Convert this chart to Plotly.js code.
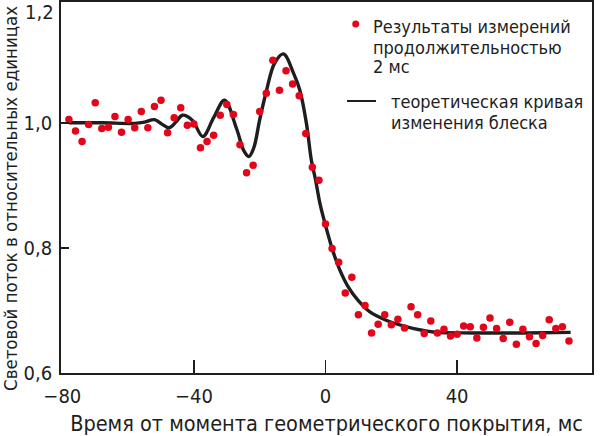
<!DOCTYPE html>
<html>
<head>
<meta charset="utf-8">
<script src="https://cdn.plot.ly/plotly-3.0.1.min.js"></script>
<style>html,body{margin:0;padding:0;background:#fff;}#chart{width:600px;height:436px;}</style>
</head>
<body>
<div id="chart"></div>
<script>
// Measurements (2 ms samples)
const measX = [-78,-76,-74,-72,-70,-68,-66,-64,-62,-60,-58,-56,-54,-52,-50,-48,-46,-44,-42,-40,
  -38,-36,-34,-32,-30,-28,-26,-24,-22,-20,-18,-16,-14,-12,-10,-8,-6,-4,-2,
  0,2,4,6,8,10,12,14,16,18,20,22,24,26,28,30,32,34,36,38,40,
  42,44,46,48,50,52,54,56,58,60,62,64,66,68,70,72,74];
const measY = [1.005,0.987,0.970,0.997,1.032,0.991,0.993,1.010,0.985,1.005,0.992,1.018,0.992,1.026,1.036,0.984,1.008,1.024,0.996,0.998,
  0.960,0.970,0.980,1.012,1.029,1.013,0.965,0.920,0.932,1.018,1.047,1.100,1.052,1.083,1.062,1.043,0.983,0.929,0.908,
  0.838,0.799,0.777,0.728,0.753,0.693,0.708,0.664,0.678,0.693,0.677,0.686,0.672,0.706,0.693,0.663,0.683,0.664,0.670,0.659,0.662,
  0.675,0.674,0.656,0.673,0.688,0.671,0.655,0.681,0.646,0.670,0.658,0.647,0.660,0.685,0.671,0.674,0.651];

// Theoretical light curve
const curveX = [-78,-68,-58,-55,-52,-49.5,-47.5,-45.5,-43.5,-40.5,-37.3,-34,-30.7,-27,-24.8,-23.3,-21.8,-20,-18,-15.5,-12.8,-9.7,-7.8,-5.8,-4.3,-3,-1.7,0,2.3,4.4,6.9,9.9,13.5,18.6,24.7,32.8,45,60,74.5];
const curveY = [1.000,1.000,0.999,1.001,1.005,0.997,0.992,1.001,1.012,1.004,0.978,1.008,1.036,0.990,0.955,0.946,0.960,1.005,1.050,1.095,1.110,1.079,1.052,0.999,0.940,0.908,0.871,0.836,0.794,0.764,0.7376,0.716,0.6976,0.684,0.6736,0.6656,0.664,0.664,0.665];

// Tick labels
const xTickVals = [-80,-40,0,40,80];
const xTickText = ['−80','−40','0','40','80'];
const xTickMarks = [-40,0,40];
const yTickVals = [0.6,0.8,1.0];
const yTickText = ['0,6','0,8','1,0'];

const legendMeas = ['Результаты измерений','продолжительностью','2 мс'];
const legendTheory = ['теоретическая кривая','изменения блеска'];
const xTitle = 'Время от момента геометрического покрытия, мс';
const yTitle = 'Световой поток в относительных единицах';

const FONT = "'DejaVu Sans Condensed', 'DejaVu Sans', sans-serif";
const INK = '#1e1e1e';
const RED = '#e3061a';

const traces = [
  {x: curveX, y: curveY, type: 'scatter', mode: 'lines', xaxis: 'x', yaxis: 'y',
   line: {color: INK, width: 3.4, shape: 'spline', smoothing: 1}, hoverinfo: 'skip', name: 'теоретическая кривая изменения блеска'},
  {x: measX, y: measY, type: 'scatter', mode: 'markers', xaxis: 'x2', yaxis: 'y',
   marker: {color: RED, size: 7.5, line: {width: 0}}, name: 'Результаты измерений продолжительностью 2 мс'}
];

const W = 531, H = 371; // plot area size
const px = v => (v - 61) / W;
const py = v => (373 - v) / H;

const ann = [];
ann.push({text: '1,2', xref: 'paper', yref: 'paper', x: px(55.5), y: py(12), xanchor: 'right', yanchor: 'middle', showarrow: false, font: {family: FONT, size: 20, color: INK}});
ann.push({text: yTitle, xref: 'paper', yref: 'paper', x: px(10), y: py(199), xanchor: 'center', yanchor: 'middle', textangle: -90, showarrow: false, font: {family: FONT, size: 18.5, color: INK}});
const l1y = [27, 47, 67];
legendMeas.forEach((t, i) => ann.push({text: t, xref: 'paper', yref: 'paper', x: px(371), y: py(l1y[i]), xanchor: 'left', yanchor: 'middle', showarrow: false, font: {family: FONT, size: 18, color: INK}}));
const l2y = [101, 122.5];
legendTheory.forEach((t, i) => ann.push({text: t, xref: 'paper', yref: 'paper', x: px(389), y: py(l2y[i]), xanchor: 'left', yanchor: 'middle', showarrow: false, font: {family: FONT, size: 18, color: INK}}));

const layout = {
  width: 600, height: 436,
  margin: {l: 61, r: 8, t: 2, b: 63},
  paper_bgcolor: '#fff', plot_bgcolor: '#fff',
  showlegend: false,
  xaxis: {range: [-80.4, 81.0], showline: true, mirror: true, linecolor: INK, linewidth: 1.8,
    ticks: '', tickvals: xTickVals, ticktext: xTickText, ticklabelstandoff: 4,
    tickfont: {family: FONT, size: 20, color: INK}, showgrid: false, zeroline: false,
    title: {text: xTitle, font: {family: FONT, size: 21.5, color: INK}, standoff: 10}},
  xaxis2: {overlaying: 'x', matches: 'x', anchor: 'y', side: 'bottom', showline: false,
    ticks: 'inside', ticklen: 13, tickwidth: 1.6, tickcolor: INK, tickvals: xTickMarks,
    showticklabels: false, showgrid: false, zeroline: false},
  yaxis: {range: [0.6, 1.193], showline: true, mirror: true, linecolor: INK, linewidth: 1.8,
    ticks: 'inside', ticklen: 8, tickwidth: 1.6, tickcolor: INK, tickvals: yTickVals, ticktext: yTickText,
    ticklabelstandoff: 3, tickfont: {family: FONT, size: 20, color: INK}, showgrid: false, zeroline: false},
  annotations: ann,
  shapes: [
    {type: 'circle', xref: 'paper', yref: 'paper', xsizemode: 'pixel', ysizemode: 'pixel',
     xanchor: px(355.7), yanchor: py(24), x0: -3.5, x1: 3.5, y0: -3.5, y1: 3.5, fillcolor: RED, line: {width: 0}},
    {type: 'line', xref: 'paper', yref: 'paper', x0: px(347), x1: px(376), y0: py(101), y1: py(101), line: {color: INK, width: 2}}
  ]
};

Plotly.newPlot('chart', traces, layout, {displayModeBar: false, staticPlot: true});
</script>
</body>
</html>
